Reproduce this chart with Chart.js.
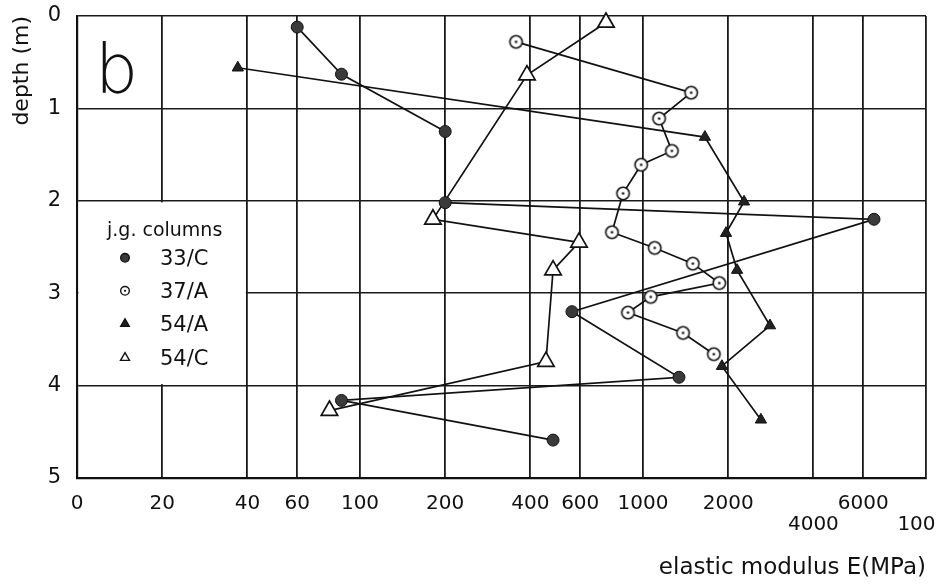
<!DOCTYPE html>
<html>
<head>
<meta charset="utf-8">
<script src="https://cdn.jsdelivr.net/npm/chart.js@4.4.1/dist/chart.umd.min.js"></script>
<style>
  html, body { margin: 0; padding: 0; background: #fff; }
  canvas { display: block; }
</style>
</head>
<body>
<canvas id="modulusChart" width="938" height="587"></canvas>
<script>
// x axis: elastic modulus (MPa), log scale; the first gridline is printed "0"
const xTickValues = [10, 20, 40, 60, 100, 200, 400, 600, 1000, 2000, 4000, 6000, 10000];
const xTickLabels = ['0', '20', '40', '60', '100', '200', '400', '600', '1000', '2000', ['', '4000'], '6000', ['', '100   ']];
const depthTicks = [0, 1, 2, 3, 4, 5];

const seriesNames = ['33/C', '37/A', '54/A', '54/C'];

// 33/C
const e33C = [60, 86, 200, 200, 6550, 561, 1340, 86, 481];
const d33C = [0.12, 0.63, 1.25, 2.02, 2.20, 3.20, 3.91, 4.16, 4.59];
// 37/A
const e37A = [356, 1480, 1140, 1265, 985, 850, 777, 1100, 1500, 1860, 1065, 885, 1385, 1780];
const d37A = [0.28, 0.83, 1.11, 1.46, 1.61, 1.92, 2.34, 2.51, 2.68, 2.89, 3.04, 3.21, 3.43, 3.66];
// 54/A
const e54A = [37, 1655, 2275, 1965, 2150, 2810, 1900, 2610];
const d54A = [0.56, 1.31, 2.01, 2.35, 2.75, 3.35, 3.79, 4.37];
// 54/C
const e54C = [740, 389, 181, 594, 481, 454, 78];
const d54C = [0.07, 0.64, 2.20, 2.45, 2.75, 3.74, 4.27];

const FONT = 'DejaVu Sans';
const INK = '#111';

function toPoints(e, d) {
    return e.map((v, i) => ({ x: v, y: d[i] }));
}

// open circle with a dot in the middle
function dotCircle(r) {
    const c = document.createElement('canvas');
    const size = Math.ceil(r * 2 + 4);
    c.width = size; c.height = size;
    const g = c.getContext('2d');
    g.beginPath();
    g.arc(size / 2, size / 2, r, 0, Math.PI * 2);
    g.fillStyle = '#fff';
    g.fill();
    g.lineWidth = 1.6;
    g.strokeStyle = INK;
    g.stroke();
    g.beginPath();
    g.arc(size / 2, size / 2, 1.3, 0, Math.PI * 2);
    g.fillStyle = INK;
    g.fill();
    return c;
}

function marker(ctx, kind, x, y, s) {
    ctx.beginPath();
    ctx.lineWidth = 1.4;
    ctx.strokeStyle = INK;
    if (kind === 0 || kind === 1) {
        ctx.arc(x, y, s, 0, Math.PI * 2);
        ctx.fillStyle = kind === 0 ? '#3a3a3a' : '#fff';
        ctx.fill();
        ctx.stroke();
        if (kind === 1) {
            ctx.beginPath();
            ctx.arc(x, y, 1.1, 0, Math.PI * 2);
            ctx.fillStyle = INK;
            ctx.fill();
        }
    } else {
        const r = s * 1.15;
        ctx.moveTo(x, y - r);
        ctx.lineTo(x + r * 0.866, y + r / 2);
        ctx.lineTo(x - r * 0.866, y + r / 2);
        ctx.closePath();
        ctx.fillStyle = kind === 2 ? '#222' : '#fff';
        ctx.fill();
        ctx.stroke();
    }
}

// legend sits in the grid cell between 0-40 and depth 2-4
const legendBox = {
    id: 'legendBox',
    beforeDatasetsDraw(chart) {
        const { ctx, scales: { x, y } } = chart;
        const l = x.getPixelForValue(10), r = x.getPixelForValue(40);
        const t = y.getPixelForValue(2), b = y.getPixelForValue(4);
        ctx.save();
        ctx.fillStyle = '#fff';
        ctx.fillRect(l + 1.5, t + 1.5, r - l - 3, b - t - 3);

        ctx.fillStyle = INK;
        ctx.textBaseline = 'middle';
        ctx.textAlign = 'left';
        ctx.font = '19px "' + FONT + '"';
        ctx.fillText('j.g. columns', l + 30, t + 30);

        const rows = [58, 91, 124, 158];
        ctx.font = '21px "' + FONT + '"';
        seriesNames.forEach((name, i) => {
            marker(ctx, i, l + 48, t + rows[i] - 1, i === 3 ? 4.5 : 4.3);
            ctx.fillStyle = INK;
            ctx.fillText(name, l + 83, t + rows[i] + 1);
        });

        // panel letter
        ctx.font = '200 68px "DejaVu Sans ExtraLight", "' + FONT + '"';
        ctx.textBaseline = 'alphabetic';
        ctx.fillText('b', l + 18, y.getPixelForValue(0) + 77);

        // depth title, reading upwards, ending at the top of the axis
        ctx.font = '22px "' + FONT + '"';
        ctx.translate(22, y.getPixelForValue(0));
        ctx.rotate(-Math.PI / 2);
        ctx.textAlign = 'right';
        ctx.textBaseline = 'middle';
        ctx.fillText('depth (m)', 0, 0);
        ctx.restore();
    }
};

const ctx = document.getElementById('modulusChart').getContext('2d');

new Chart(ctx, {
    type: 'line',
    data: {
        datasets: [
            {
                label: seriesNames[0],
                data: toPoints(e33C, d33C),
                borderColor: INK,
                borderWidth: 1.7,
                pointStyle: 'circle',
                pointRadius: 6,
                pointBackgroundColor: '#3a3a3a',
                pointBorderColor: INK,
                pointBorderWidth: 1
            },
            {
                label: seriesNames[1],
                data: toPoints(e37A, d37A),
                borderColor: INK,
                borderWidth: 1.7,
                pointStyle: dotCircle(6.2),
                pointRadius: 6
            },
            {
                label: seriesNames[2],
                data: toPoints(e54A, d54A),
                borderColor: INK,
                borderWidth: 1.7,
                pointStyle: 'triangle',
                pointRadius: 6.5,
                pointBackgroundColor: '#222',
                pointBorderColor: INK,
                pointBorderWidth: 1
            },
            {
                label: seriesNames[3],
                data: toPoints(e54C, d54C),
                borderColor: INK,
                borderWidth: 1.7,
                pointStyle: 'triangle',
                pointRadius: 9.5,
                pointBackgroundColor: '#fff',
                pointBorderColor: INK,
                pointBorderWidth: 1.7
            }
        ]
    },
    options: {
        responsive: false,
        animation: false,
        devicePixelRatio: 1,
        clip: false,
        tension: 0,
        layout: { padding: { top: 16, right: 12, left: 0, bottom: 0 } },
        plugins: {
            legend: { display: false },
            tooltip: { enabled: false }
        },
        scales: {
            x: {
                type: 'logarithmic',
                position: 'bottom',
                min: 10,
                max: 10000,
                afterBuildTicks: s => { s.ticks = xTickValues.map(v => ({ value: v })); },
                afterFit: s => { s.height = 109; s.paddingLeft = 0; s.paddingRight = 0; },
                ticks: {
                    callback: (v, i) => xTickLabels[i],
                    autoSkip: false,
                    maxRotation: 0,
                    minRotation: 0,
                    padding: 15,
                    color: INK,
                    font: { family: FONT, size: 20, lineHeight: 1.05 }
                },
                grid: { color: '#1a1a1a', lineWidth: 1.8, drawTicks: false },
                border: { color: INK, width: 2.2 },
                title: {
                    display: true,
                    text: 'elastic modulus E(MPa)',
                    align: 'end',
                    color: INK,
                    font: { family: FONT, size: 23 },
                    padding: { top: 0, bottom: 5 }
                }
            },
            y: {
                type: 'linear',
                reverse: true,
                min: 0,
                max: 5,
                afterBuildTicks: s => { s.ticks = depthTicks.map(v => ({ value: v })); },
                afterFit: s => { s.width = 77; s.paddingTop = 0; s.paddingBottom = 0; },
                ticks: {
                    padding: 16,
                    color: INK,
                    font: { family: FONT, size: 21 }
                },
                grid: { color: '#1a1a1a', lineWidth: 1.5, drawTicks: false },
                border: { color: INK, width: 2.2 },
                title: { display: false }
            }
        }
    },
    plugins: [legendBox]
});
</script>
</body>
</html>
